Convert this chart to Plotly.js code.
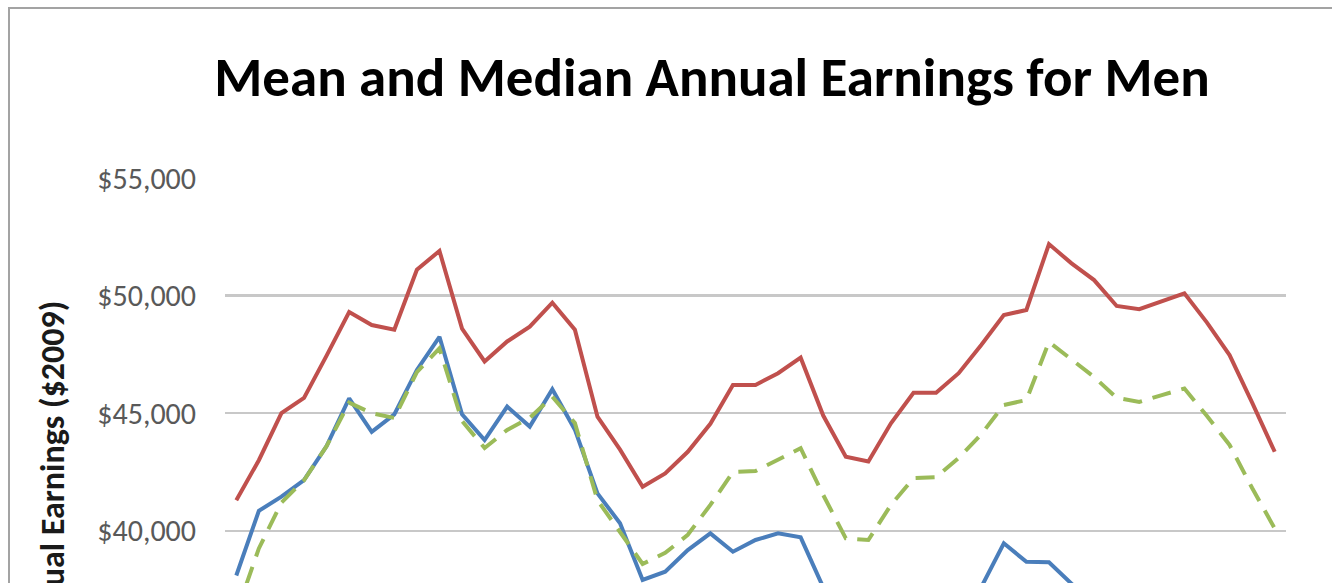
<!DOCTYPE html>
<html>
<head>
<meta charset="utf-8">
<script src="https://cdn.plot.ly/plotly-3.0.1.min.js"></script>
<style>
  html, body { margin: 0; padding: 0; width: 1332px; height: 583px; overflow: hidden; background: #ffffff; }
  #chart { position: absolute; left: 0; top: 0; width: 1332px; height: 900px; }
  #frame { position: absolute; left: 8px; top: 7px; width: 2000px; height: 2000px;
           border-left: 2px solid #a3a3a3; border-top: 2px solid #a3a3a3; pointer-events: none; }
</style>
</head>
<body>
<div id="chart"></div>
<div id="frame"></div>
<script>
// Years (x categories)
const years = [1963,1964,1965,1966,1967,1968,1969,1970,1971,1972,1973,1974,1975,1976,1977,1978,
  1979,1980,1981,1982,1983,1984,1985,1986,1987,1988,1989,1990,1991,1992,1993,1994,1995,1996,
  1997,1998,1999,2000,2001,2002,2003,2004,2005,2006,2007,2008,2009];

// Mean annual earnings (red)
const meanEarnings = [41300,43000,45000,45650,47450,49300,48750,48550,51100,51900,48600,47200,
  48050,48680,49700,48550,44850,43450,41870,42440,43360,44550,46200,46200,46700,47360,44900,
  43150,42950,44570,45870,45870,46700,47900,49170,49390,52190,51370,50660,49560,49420,49750,
  50100,48850,47470,45450,43360];

// Median annual earnings (blue)
const medianEarnings = [38100,40850,41450,42160,43600,45630,44210,44950,46840,48250,44950,43860,
  45280,44430,46020,44300,41590,40320,37910,38260,39180,39890,39110,39610,39890,39720,37600,
  36600,36200,36500,36900,37000,37200,37600,39470,38680,38660,37750,37000,36400,36300,36500,
  36600,36000,35300,34500,33800];

// Third series (green dashed)
const otherEarnings = [36500,39250,41200,42150,43600,45450,45000,44800,46750,47760,44670,43520,
  44290,44800,45700,44580,41300,39950,38590,39060,39830,41100,42500,42540,43010,43510,41520,
  39680,39610,41100,42240,42280,43100,44100,45350,45560,48030,47300,46540,45650,45480,45770,
  46050,44880,43650,41820,40100];

const yTicks = [40000,45000,50000,55000];
const yTickText = ["$40,000","$45,000","$50,000","$55,000"];

const FONT = "Carlito, Lato, 'Open Sans', sans-serif";

const traces = [
  { x: years, y: meanEarnings, type: "scatter", mode: "lines", name: "Mean",
    line: { color: "#C0504D", width: 4 } },
  { x: years, y: medianEarnings, type: "scatter", mode: "lines", name: "Median",
    line: { color: "#4A7EBB", width: 4 } },
  { x: years, y: otherEarnings, type: "scatter", mode: "lines", name: "Median (adjusted)",
    line: { color: "#9BBB59", width: 4, dash: "19px,11px" } }
];

const H = 900;
const layout = {
  width: 1332, height: H,
  margin: { l: 225, r: 46, t: 178, b: H - 766 },
  paper_bgcolor: "#ffffff", plot_bgcolor: "#ffffff",
  showlegend: false,
  title: {
    text: "<b>Mean and Median Annual Earnings for Men</b>",
    font: { family: FONT, size: 55, color: "#000000" },
    xref: "container", x: 712 / 1332, xanchor: "center",
    yref: "container", y: 1 - 77 / H, yanchor: "middle"
  },
  xaxis: {
    range: [1962.5, 2009.5], showgrid: false, zeroline: false,
    showline: false, showticklabels: false, ticks: ""
  },
  yaxis: {
    range: [30000, 55000], tickvals: yTicks, ticktext: yTickText,
    showgrid: true, gridcolor: "#c8c8c8", gridwidth: 2.5,
    zeroline: false, showline: false, ticks: "",
    ticklabelstandoff: 28,
    tickfont: { family: FONT, size: 30, color: "#595959" },
    title: { text: "<b>Annual Earnings ($2009)</b>", standoff: 22,
             font: { family: FONT, size: 34, color: "#1a1a1a" } }
  }
};

Plotly.newPlot("chart", traces, layout, { displayModeBar: false, staticPlot: true });
</script>
</body>
</html>
